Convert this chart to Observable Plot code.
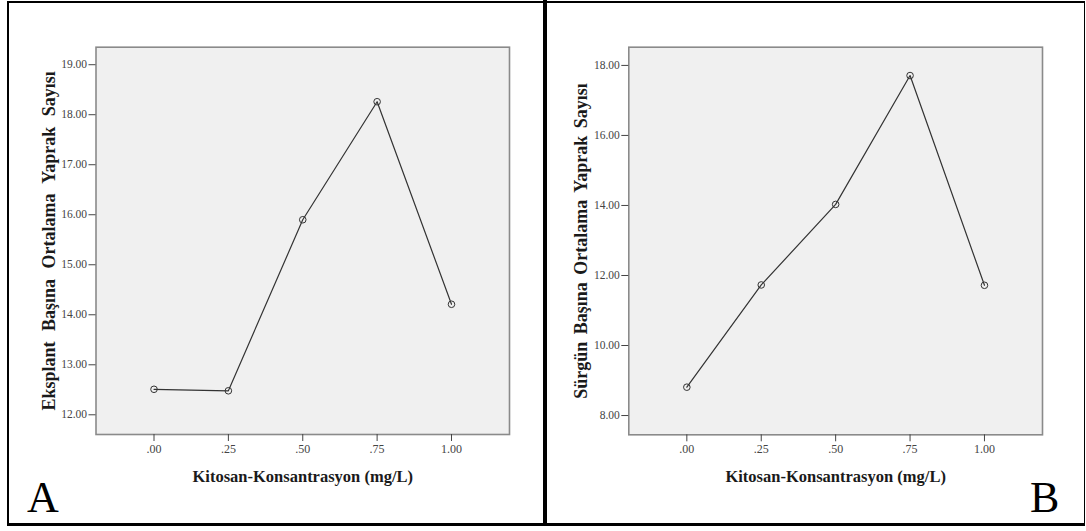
<!DOCTYPE html>
<html>
<head>
<meta charset="utf-8">
<script src="https://cdn.jsdelivr.net/npm/d3@7"></script>
<script src="https://cdn.jsdelivr.net/npm/@observablehq/plot@0.6"></script>
<style>
  html, body { margin: 0; padding: 0; background: #fff; }
  #wrap { position: relative; width: 1086px; height: 531px; overflow: hidden; background: #fff; }
  .rule { position: absolute; background: #000; }
  .panel { position: absolute; top: 0; }
  .letter { position: absolute; font-family: "Liberation Serif", serif; font-size: 44px; line-height: 1; color: #000; }
</style>
</head>
<body>
<div id="wrap">
  <div class="panel" id="panelA" style="left:0px;"></div>
  <div class="panel" id="panelB" style="left:545px;"></div>
  <div class="rule" style="left:7px; top:1px; width:1078px; height:1.5px;"></div>
  <div class="rule" style="left:7px; top:1px; width:1.5px; height:524px;"></div>
  <div class="rule" style="left:1083.5px; top:1px; width:1.5px; height:524px;"></div>
  <div class="rule" style="left:7px; top:523px; width:1078px; height:3px;"></div>
  <div class="rule" style="left:542.8px; top:0px; width:4.5px; height:526px;"></div>
  <div class="letter" style="left:27px; top:476px;">A</div>
  <div class="letter" style="left:1030px; top:476px;">B</div>
</div>
<script>
// ---- data ----
const xValues = [0, 0.25, 0.5, 0.75, 1];
const xTickLabels = [".00", ".25", ".50", ".75", "1.00"];
const xTitle = "Kitosan-Konsantrasyon (mg/L)";

const seriesA = [12.51, 12.48, 15.90, 18.26, 14.21];
const yTicksA = [12, 13, 14, 15, 16, 17, 18, 19];
const yTickLabelsA = ["12.00", "13.00", "14.00", "15.00", "16.00", "17.00", "18.00", "19.00"];
const yTitleA = "Eksplant Başına Ortalama Yaprak Sayısı";

const seriesB = [8.81, 11.73, 14.03, 17.71, 11.72];
const yTicksB = [8, 10, 12, 14, 16, 18];
const yTickLabelsB = ["8.00", "10.00", "12.00", "14.00", "16.00", "18.00"];
const yTitleB = "Sürgün Başına Ortalama Yaprak Sayısı";

function panel(series, yDomain, yTicks, yTickLabels, yTitle, dims) {
  const data = xValues.map((x, i) => ({x, y: series[i]}));
  const svg = Plot.plot({
    width: dims.width,
    height: 531,
    marginLeft: dims.marginLeft,
    marginRight: dims.marginRight,
    marginTop: 46.7,
    marginBottom: dims.marginBottom,
    style: {background: "transparent", fontFamily: "'Liberation Serif', serif", overflow: "visible"},
    x: {domain: [-0.195, 1.195]},
    y: {domain: yDomain},
    marks: [
      Plot.frame({fill: "#f0f0f0", stroke: "#8a8a8a", strokeWidth: 1.6}),
      Plot.axisX({
        ticks: xValues,
        tickFormat: d => xTickLabels[xValues.indexOf(d)],
        tickSize: 7, tickPadding: 3, fontSize: 12, color: "#444", label: null
      }),
      Plot.axisY({
        ticks: yTicks,
        tickFormat: d => yTickLabels[yTicks.indexOf(d)],
        tickSize: 7, tickPadding: 2, fontSize: 11.5, color: "#444", label: null
      }),
      Plot.line(data, {x: "x", y: "y", stroke: "#333", strokeWidth: 1.2}),
      Plot.dot(data, {x: "x", y: "y", r: 3.3, stroke: "#333", fill: "none", strokeWidth: 1}),
      Plot.text([xTitle], {
        text: d => d, frameAnchor: "bottom", dy: 47, textAnchor: "middle",
        fontSize: 16.5, fontWeight: "bold", fill: "#1a1a1a"
      }),
      Plot.text([yTitle], {
        text: d => d, frameAnchor: "left", rotate: -90, dx: dims.yTitleDx,
        textAnchor: "middle", lineAnchor: "middle",
        fontSize: 18, fontWeight: "bold", fill: "#1a1a1a"
      })
    ]
  });
  d3.select(svg).selectAll("text").filter(function() { return this.textContent === yTitle; })
    .style("word-spacing", dims.wordSpacing);
  return svg;
}

document.getElementById("panelA").appendChild(
  panel(seriesA, [11.606, 19.35], yTicksA, yTickLabelsA, yTitleA,
    {width: 545, marginLeft: 95.5, marginRight: 36, marginBottom: 97, yTitleDx: -46.5, wordSpacing: "6px"})
);
document.getElementById("panelB").appendChild(
  panel(seriesB, [7.45, 18.52], yTicksB, yTickLabelsB, yTitleB,
    {width: 541, marginLeft: 83.3, marginRight: 44, marginBottom: 96.7, yTitleDx: -47.7, wordSpacing: "3px"})
);
</script>
</body>
</html>
